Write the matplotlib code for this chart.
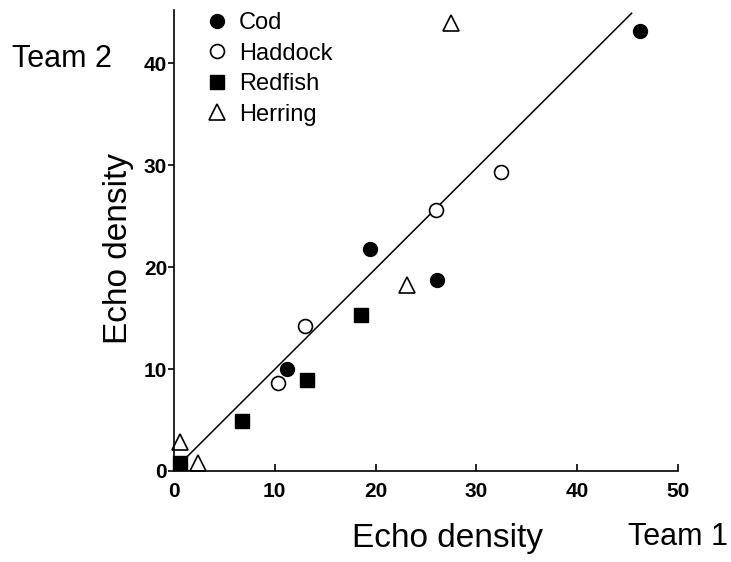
import matplotlib
matplotlib.use("Agg")
import matplotlib.pyplot as plt

plt.rcParams["font.family"] = ["Liberation Sans", "DejaVu Sans"]

# values (Team 1 on x, Team 2 on y)
cod_x = [11.2, 19.4, 26.1, 46.2]
cod_y = [10.0, 21.8, 18.7, 43.1]
haddock_x = [10.3, 13.0, 26.0, 32.4]
haddock_y = [8.6, 14.2, 25.6, 29.3]
redfish_x = [0.6, 6.7, 13.2, 18.6]
redfish_y = [0.8, 4.9, 8.9, 15.3]
herring_x = [0.6, 2.4, 23.1, 27.5]
herring_y = [2.8, 0.8, 18.2, 43.9]

fit_x = [1.3, 45.4]
fit_slope = 0.986
fit_intercept = 0.12

xticks = [0, 10, 20, 30, 40, 50]
yticks = [0, 10, 20, 30, 40]

fig = plt.figure(figsize=(7.31, 5.62), dpi=100)
ax = fig.add_axes([174 / 731, 91 / 562, 504 / 731, 461 / 562])

ms = 10
ax.plot(cod_x, cod_y, "o", color="black", ms=ms, clip_on=False, label="Cod")
ax.plot(haddock_x, haddock_y, "o", mfc="white", mec="black", mew=1.2, ms=ms,
        clip_on=False, label="Haddock")
ax.plot(redfish_x, redfish_y, "s", color="black", ms=ms, clip_on=False, label="Redfish")
ax.plot(herring_x, herring_y, "^", mfc="white", mec="black", mew=1.2, ms=ms + 1,
        clip_on=False, label="Herring")

fit_y = [fit_slope * v + fit_intercept for v in fit_x]
ax.plot(fit_x, fit_y, color="black", lw=1.1, zorder=1)

ax.set_xlim(0, 50)
ax.set_ylim(0, 45.2)
ax.set_xticks(xticks)
ax.set_yticks(yticks)
for side in ["top", "right"]:
    ax.spines[side].set_visible(False)
for side in ["left", "bottom"]:
    ax.spines[side].set_linewidth(1.2)
ax.tick_params(axis="x", direction="in", length=5, width=1.2, pad=8, labelsize=15)
ax.tick_params(axis="y", direction="out", length=4.5, width=1.2, pad=0.5, labelsize=15)
for lab in ax.get_xticklabels() + ax.get_yticklabels():
    lab.set_fontweight("bold")

ax.set_xlabel("Echo density", fontsize=24, va="baseline")
ax.xaxis.set_label_coords(448 / 731, 1 - 547 / 562, transform=fig.transFigure)
ax.set_ylabel("Echo density", fontsize=24)
ax.yaxis.set_label_coords(134 / 731, 1 - 249 / 562, transform=fig.transFigure)

fig.text(12 / 731, 1 - 67 / 562, "Team 2", fontsize=22, va="baseline")
fig.text(628 / 731, 1 - 545 / 562, "Team 1", fontsize=22, va="baseline")

ax.legend(loc="upper left", bbox_to_anchor=(208 / 731, 1 - 12 / 562),
          bbox_transform=fig.transFigure, frameon=False, fontsize=17,
          handlelength=0.8, handletextpad=0.5, labelspacing=0.36,
          borderpad=0, borderaxespad=0, numpoints=1)

fig.savefig("out.png", dpi=100)
